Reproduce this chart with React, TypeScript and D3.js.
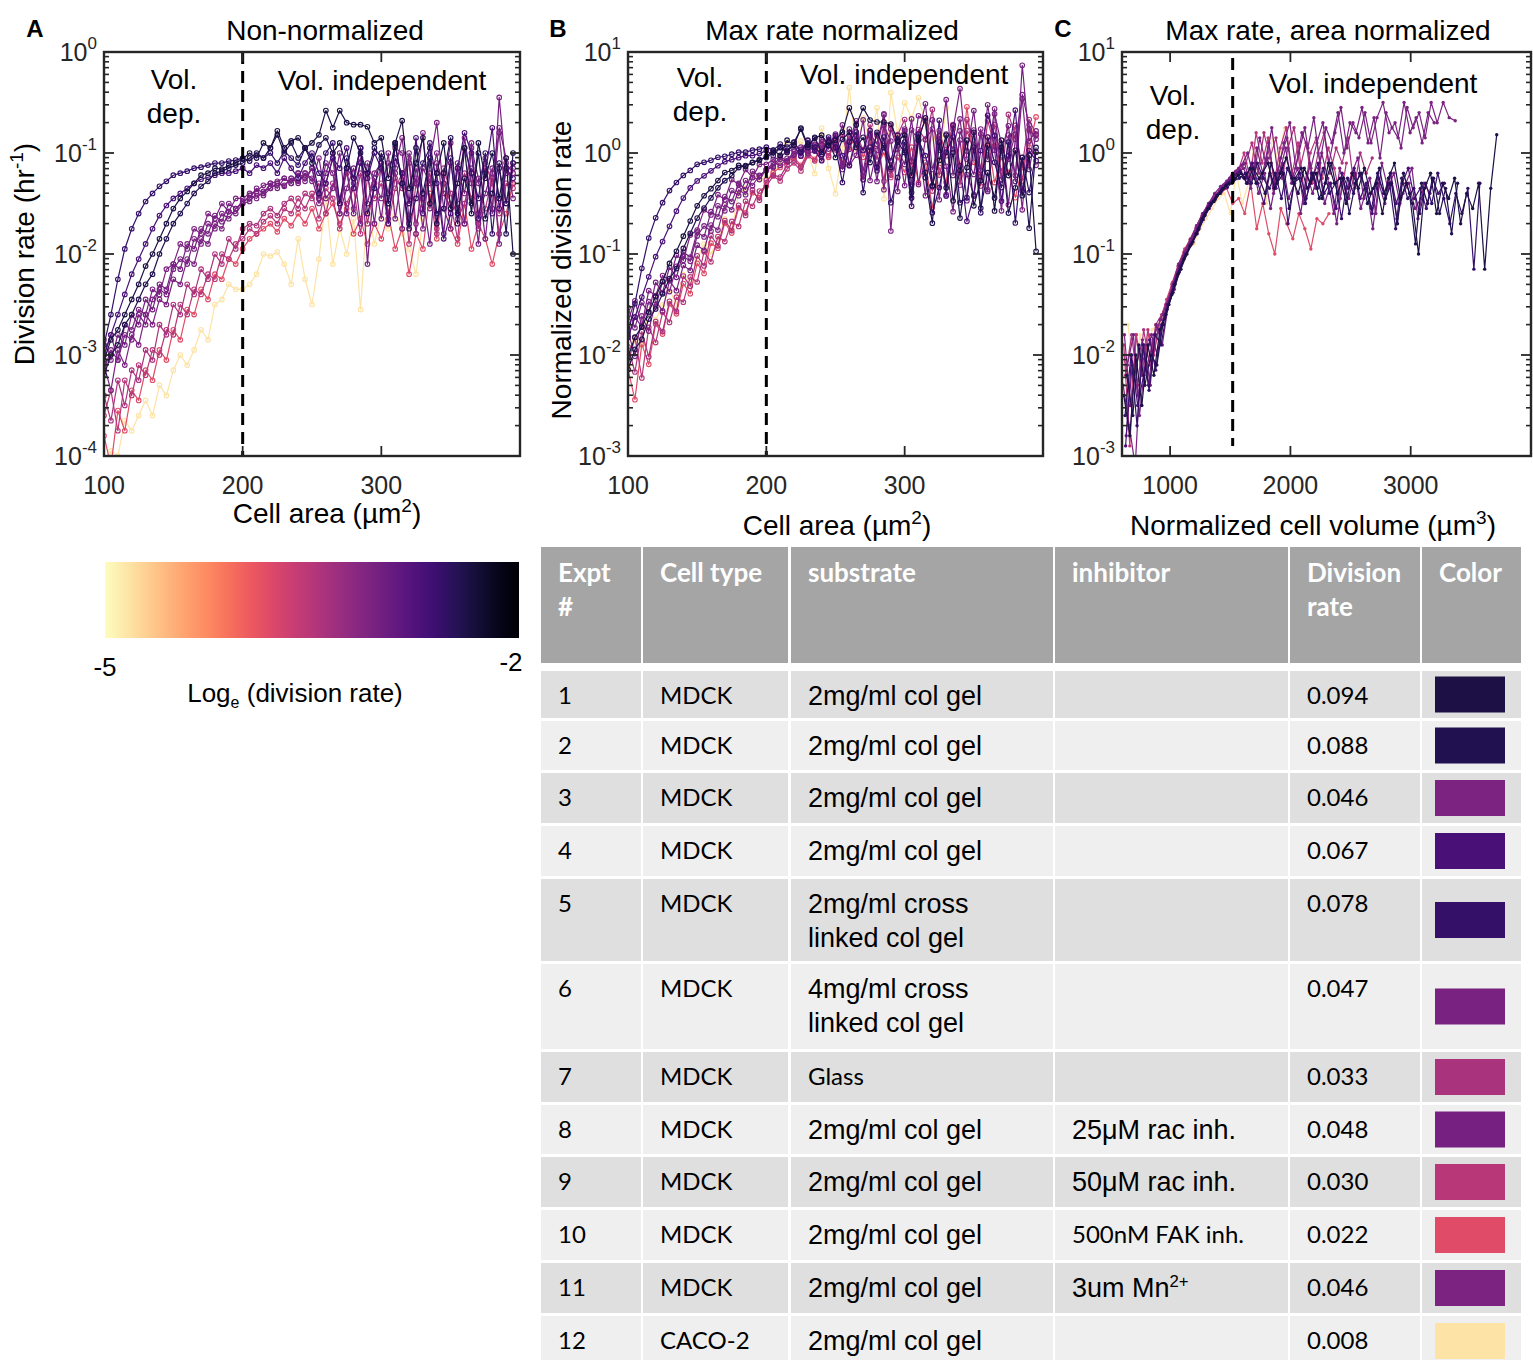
import React from "react";
import * as d3 from "d3";

// ---------------- experiment table ----------------
const exptIds = ["1", "2", "3", "4", "5", "6", "7", "8", "9", "10", "11", "12"];
const cellTypes = ["MDCK", "MDCK", "MDCK", "MDCK", "MDCK", "MDCK", "MDCK", "MDCK", "MDCK", "MDCK", "MDCK", "CACO-2"];
const substrates = [
  "2mg/ml col gel",
  "2mg/ml col gel",
  "2mg/ml col gel",
  "2mg/ml col gel",
  "2mg/ml cross\nlinked col gel",
  "4mg/ml cross\nlinked col gel",
  "Glass",
  "2mg/ml col gel",
  "2mg/ml col gel",
  "2mg/ml col gel",
  "2mg/ml col gel",
  "2mg/ml col gel",
];
const inhibitors = ["", "", "", "", "", "", "", "25\u03bcM rac inh.", "50\u03bcM rac inh.", "500nM FAK inh.", "3um Mn^2+", ""];
const divisionRates = [0.094, 0.088, 0.046, 0.067, 0.078, 0.047, 0.033, 0.048, 0.03, 0.022, 0.046, 0.008];
const tableHeaders = ["Expt\n#", "Cell type", "substrate", "inhibitor", "Division\nrate", "Color"];

// ---------------- division rate vs. cell area (log10 hr^-1), 5 um^2 bins from 100 ----------------
const areaBinStart = 100;
const areaBinWidth = 5;
const logRateByArea: number[][] = [
  // 1
  [-3.05, -2.85, -2.75, -2.6, -2.45, -2.3, -2.12, -2.0, -1.85, -1.7,
   -1.55, -1.45, -1.38, -1.3, -1.22, -1.2, -1.15, -1.16, -1.12, -1.1,
   -1.06, -1.0, -1.05, -0.9, -0.95, -0.78, -0.95, -0.88, -0.85, -0.95,
   -0.9, -0.82, -0.58, -0.75, -0.58, -0.7, -0.72, -0.72, -0.74, -0.9,
   -0.85, -1.25, -0.9, -0.68, -1.35, -1.1, -0.85, -1.5, -1.2, -0.9,
   -1.55, -1.3, -0.95, -1.6, -0.9, -1.25, -1.0, -1.45, -1.05, -2.0],
  // 2
  [-3.2, -3.0, -2.9, -2.7, -2.6, -2.45, -2.3, -2.2, -2.0, -1.85,
   -1.7, -1.6, -1.5, -1.4, -1.33, -1.28, -1.2, -1.18, -1.15, -1.12,
   -1.1, -1.05, -1.0, -1.05, -0.95, -0.82, -1.0, -0.9, -1.05, -0.95,
   -1.1, -0.92, -0.85, -1.0, -0.9, -1.15, -0.85, -1.0, -1.2, -0.95,
   -1.05, -1.5, -0.9, -1.3, -1.75, -0.95, -1.4, -1.05, -1.7, -1.2,
   -0.85, -1.6, -1.25, -1.5, -1.0, -1.65, -1.4, -1.1, -1.8, -1.0],
  // 3
  [-3.0, -2.8, -3.05, -2.7, -2.75, -2.55, -2.6, -2.35, -2.4, -2.15,
   -2.1, -1.9, -1.95, -1.75, -1.8, -1.6, -1.65, -1.5, -1.58, -1.45,
   -1.45, -1.4, -1.38, -1.32, -1.3, -1.28, -1.25, -1.3, -1.2, -1.25,
   -1.15, -1.45, -1.1, -1.2, -1.6, -1.15, -1.25, -0.95, -1.5, -1.2,
   -1.1, -1.65, -1.15, -0.85, -1.5, -1.25, -1.75, -1.1, -0.7, -1.4,
   -1.55, -1.1, -1.7, -0.95, -1.25, -1.85, -1.2, -0.8, -1.5, -1.15],
  // 4
  [-3.0, -2.8, -2.6, -2.4, -2.2, -2.05, -1.9, -1.75, -1.62, -1.52,
   -1.45, -1.4, -1.35, -1.3, -1.26, -1.24, -1.22, -1.2, -1.2, -1.18,
   -1.15, -1.2, -1.12, -1.15, -1.1, -1.2, -1.05, -1.15, -1.25, -1.1,
   -1.0, -1.2, -1.3, -1.05, -1.15, -0.95, -1.35, -1.1, -1.25, -1.0,
   -1.15, -1.7, -1.05, -1.2, -1.5, -0.85, -1.6, -0.9, -1.3, -1.85,
   -1.6, -1.15, -0.8, -1.0, -1.65, -1.2, -0.75, -1.55, -1.15, -1.25],
  // 5
  [-2.9, -2.6, -2.25, -1.95, -1.75, -1.6, -1.48, -1.4, -1.33, -1.28,
   -1.22, -1.2, -1.18, -1.15, -1.14, -1.12, -1.1, -1.1, -1.08, -1.07,
   -1.05, -1.08, -1.02, -1.05, -1.0, -1.1, -0.98, -1.05, -1.12, -0.95,
   -1.05, -1.4, -1.0, -0.9, -1.5, -1.05, -1.25, -0.95, -1.6, -1.35,
   -1.0, -1.5, -0.92, -1.3, -1.7, -1.45, -1.1, -0.95, -1.6, -1.55,
   -1.05, -1.7, -0.95, -1.2, -1.45, -1.0, -1.8, -1.15, -1.5, -1.1],
  // 6
  [-3.15, -2.95, -3.05, -2.8, -2.85, -2.6, -2.7, -2.45, -2.35, -2.4,
   -2.15, -2.05, -2.1, -1.85, -1.9, -1.7, -1.75, -1.6, -1.65, -1.55,
   -1.5, -1.42, -1.45, -1.38, -1.35, -1.3, -1.33, -1.25, -1.3, -1.2,
   -1.28, -1.05, -1.45, -1.35, -1.0, -1.6, -1.3, -0.95, -2.1, -1.25,
   -1.65, -1.1, -1.2, -1.75, -1.0, -1.3, -0.8, -1.55, -1.2, -1.8,
   -1.1, -1.5, -0.85, -1.3, -1.9, -1.15, -1.55, -0.75, -1.05, -1.45],
  // 7
  [-3.4, -3.65, -3.25, -3.5, -3.15, -3.25, -2.95, -3.05, -2.7, -2.8,
   -2.5, -2.6, -2.3, -2.4, -2.15, -2.25, -2.0, -2.1, -1.85, -1.95,
   -1.75, -1.7, -1.72, -1.6, -1.55, -1.62, -1.5, -1.45, -1.55, -1.4,
   -1.45, -1.3, -1.6, -1.3, -1.45, -1.2, -1.55, -1.2, -1.7, -1.3,
   -1.15, -1.6, -1.25, -1.35, -1.05, -1.7, -1.45, -1.2, -1.8, -1.15,
   -1.4, -1.65, -1.5, -1.2, -1.75, -1.1, -1.3, -1.6, -1.15, -1.3],
  // 8
  [-2.85, -3.05, -2.8, -2.9, -2.6, -2.7, -2.45, -2.55, -2.3, -2.35,
   -2.1, -2.15, -1.9, -1.95, -1.75, -1.8, -1.62, -1.68, -1.5, -1.55,
   -1.48, -1.45, -1.35, -1.4, -1.3, -1.35, -1.25, -1.3, -1.2, -1.28,
   -1.15, -1.45, -1.2, -1.0, -1.5, -1.15, -1.6, -1.05, -1.2, -1.7,
   -1.1, -1.4, -0.95, -1.0, -1.65, -1.15, -1.45, -1.9, -1.1, -1.3,
   -0.9, -1.55, -1.7, -1.15, -1.3, -1.05, -1.6, -0.45, -1.2, -1.1],
  // 9
  [-3.6, -3.35, -3.75, -3.25, -3.4, -3.1, -3.2, -2.95, -3.0, -2.75,
   -2.8, -2.5, -2.6, -2.35, -2.4, -2.2, -2.25, -2.0, -2.05, -1.9,
   -1.85, -1.75, -1.8, -1.68, -1.62, -1.7, -1.55, -1.6, -1.45, -1.55,
   -1.4, -1.65, -1.35, -1.45, -1.75, -1.5, -1.35, -1.8, -1.25, -1.45,
   -1.3, -1.7, -1.35, -1.2, -1.9, -1.3, -1.55, -1.25, -1.75, -1.3,
   -1.5, -1.85, -1.2, -1.45, -1.7, -1.55, -1.25, -1.8, -1.3, -1.35],
  // 10
  [-3.8, -4.1, -3.55, -3.75, -3.35, -3.45, -3.15, -3.25, -2.95, -3.05,
   -2.75, -2.85, -2.55, -2.6, -2.35, -2.45, -2.2, -2.25, -2.05, -2.1,
   -1.95, -1.85, -1.8, -1.75, -1.7, -1.78, -1.65, -1.72, -1.6, -1.7,
   -1.55, -1.75, -1.6, -1.5, -1.7, -1.55, -1.8, -1.65, -1.9, -1.7,
   -1.85, -1.6, -1.95, -1.75, -2.2, -1.8, -1.95, -1.4, -1.85, -1.2,
   -1.75, -1.9, -1.5, -1.95, -1.7, -1.85, -2.1, -1.8, -1.6, -1.3],
  // 11
  [-3.1, -3.35, -2.95, -3.1, -2.8, -2.9, -2.6, -2.7, -2.45, -2.5,
   -2.25, -2.3, -2.05, -2.1, -1.85, -1.9, -1.7, -1.75, -1.58, -1.6,
   -1.5, -1.48, -1.4, -1.42, -1.35, -1.3, -1.32, -1.25, -1.28, -1.2,
   -1.25, -1.5, -1.3, -1.05, -1.6, -1.35, -1.15, -1.7, -1.1, -1.3,
   -1.45, -1.0, -1.65, -1.2, -1.1, -1.8, -1.15, -1.3, -1.0, -1.55,
   -1.75, -1.15, -1.4, -0.9, -1.6, -1.4, -1.15, -1.9, -1.1, -1.2],
  // 12
  [-4.2, -3.95, -4.0, -3.65, -3.75, -3.6, -3.45, -3.6, -3.3, -3.4,
   -3.15, -3.0, -3.1, -2.95, -2.75, -2.85, -2.5, -2.45, -2.3, -2.35,
   -2.35, -2.3, -2.2, -2.0, -2.02, -1.98, -2.1, -2.3, -1.85, -2.25,
   -2.5, -2.05, -1.45, -2.1, -1.75, -2.0, -1.65, -2.55, -1.5, -1.9,
   -1.6, -1.75, -1.55, -1.8, -1.95, -2.2, -1.65],
];

// ---------------- normalized rate vs. normalized volume (log10), 50 um^3 bins ----------------
const volBinStart = [615, 640, 620, 630, 625, 645, 630, 635, 615, 620, 610, 650];
const volBinWidth = 50;
const logNormRateByVolume: number[][] = [
  // 1
  [-2.4, -2.8, -2.0, -2.5, -1.9, -2.2, -1.75, -1.6, -1.4, -1.2, -1.05, -0.92, -0.8, -0.65, -0.55, -0.48, -0.4, -0.32, -0.3, -0.22,
   -0.25, -0.15, -0.3, -0.2, -0.1, -0.35, -0.2, -0.05, -0.25, -0.4, -0.15, -0.3, -0.2, -0.45, -0.1, -0.3, -0.25, -0.5, -0.2, -0.35,
   -0.15, -0.4, -0.3, -0.6, -0.25, -0.1, -0.45, -0.3, -0.5, -1.0, -0.35, -0.2, -0.6, -0.3, -0.45, -0.25, -0.7, -0.4, -0.55, -0.3,
   -1.15, -0.35, 0.18],
  // 2
  [-2.2, -2.6, -1.9, -2.3, -2.0, -2.1, -1.7, -1.5, -1.3, -1.15, -1.0, -0.88, -0.75, -0.62, -0.5, -0.42, -0.35, -0.3, -0.25, -0.2,
   -0.3, -0.15, -0.25, -0.4, -0.1, -0.3, -0.2, -0.55, -0.25, -0.15, -0.35, -0.2, -0.45, -0.3, -0.1, -0.4, -0.25, -0.6, -0.3, -0.2,
   -0.5, -0.35, -0.15, -0.45, -0.3, -0.7, -0.2, -0.4, -0.9, -0.3, -0.5, -0.25, -0.6, -0.35, -0.8, -0.3],
  // 3
  [-1.8, -2.5, -2.1, -1.85, -2.3, -1.8, -1.65, -1.5, -1.32, -1.1, -0.98, -0.85, -0.72, -0.6, -0.5, -0.4, -0.33, -0.28, -0.2, -0.15,
   -0.1, -0.35, 0.05, -0.2, 0.1, -0.3, -0.05, 0.15, -0.25, 0.0, 0.25, -0.15, 0.1, 0.3, -0.1, 0.2, 0.45, 0.05, 0.3, 0.15,
   0.4, 0.1, 0.35, 0.5, 0.2, 0.3, 0.05, 0.45, 0.25, 0.4, 0.15, 0.5, 0.3, 0.5, 0.35, 0.32],
  // 4
  [-2.9, -2.0, -2.5, -2.2, -1.85, -2.15, -1.7, -1.5, -1.3, -1.12, -1.0, -0.9, -0.75, -0.6, -0.5, -0.44, -0.36, -0.3, -0.22, -0.18,
   -0.25, -0.1, -0.3, -0.5, -0.2, -0.35, -0.15, -0.7, -0.3, -0.2, -0.45, -0.25, -0.1, -0.4, -0.3, -0.55, -0.2, -0.35, -0.15, -0.45,
   -0.3, -0.6, -0.25, -0.4, -0.2, -0.5, -0.3, -0.15, -0.45, -0.35, -0.55, -0.25, -0.4, -0.3],
  // 5
  [-2.6, -2.0, -2.7, -1.9, -2.35, -1.8, -1.9, -1.55, -1.38, -1.18, -1.02, -0.9, -0.8, -0.66, -0.55, -0.46, -0.38, -0.34, -0.28, -0.25,
   -0.2, -0.3, -0.1, -0.25, -0.35, -0.2, -0.45, -0.15, -0.3, -0.25, -0.5, -0.2, -0.35, -0.15, -0.4, -0.3, -0.65, -0.25, -0.4, -0.2,
   -0.35, -0.55, -0.2, -0.4, -0.3, -0.75, -0.25, -0.45, -0.35, -0.6, -0.3, -0.5, -0.2, -0.45, -0.7, -0.4, -0.6, -0.35, -1.15, -0.3],
  // 6
  [-2.1, -1.8, -2.6, -2.05, -1.8, -2.0, -1.6, -1.45, -1.25, -1.08, -0.95, -0.82, -0.7, -0.58, -0.48, -0.4, -0.32, -0.25, -0.18, -0.12,
   0.0, -0.25, 0.15, -0.1, 0.25, -0.2, 0.1, 0.3, -0.15, 0.2, 0.05, 0.35, -0.1, 0.25, 0.1, 0.4, 0.0, 0.3, 0.2, 0.45,
   0.1, 0.35, -0.05, 0.4, 0.25, 0.15, 0.5, 0.2, 0.35, 0.1, 0.4, 0.3],
  // 7
  [-2.2, -1.8, -2.3, -1.75, -2.1, -1.7, -1.6, -1.45, -1.28, -1.1, -0.95, -0.85, -0.72, -0.6, -0.5, -0.42, -0.35, -0.28, -0.22, -0.16,
   -0.1, 0.1, -0.2, 0.2, -0.05, 0.15, -0.25, 0.05, 0.25, -0.15, 0.1, -0.3, 0.0, 0.2, -0.2, 0.05, -0.1, 0.15, -0.35, 0.0,
   -0.2, -0.05],
  // 8
  [-2.8, -2.1, -2.4, -1.9, -2.3, -1.7, -1.9, -1.5, -1.35, -1.15, -1.0, -0.85, -0.76, -0.62, -0.52, -0.42, -0.36, -0.28, -0.22, -0.18,
   -0.3, -0.1, -0.4, -0.2, -0.55, -0.25, -0.1, -0.45, -0.3, -0.6, -0.2, -0.4, -0.15, -0.5, -0.3, -0.7, -0.25, -0.45, -0.2, -0.55,
   -0.35, -0.75, -0.3, -0.5, -0.2, -0.65, -0.4, -0.3, -0.55, -0.45],
  // 9
  [-1.9, -2.9, -1.8, -2.2, -1.75, -2.0, -1.65, -1.5, -1.3, -1.12, -0.98, -0.86, -0.74, -0.62, -0.52, -0.44, -0.36, -0.3, -0.22, -0.18,
   0.0, -0.25, 0.2, -0.1, 0.15, -0.3, 0.05, 0.25, -0.2, 0.1, -0.4, 0.0, 0.15, -0.25, 0.05, -0.15, -0.45, -0.1],
  // 10
  [-2.0, -2.5, -1.8, -2.2, -1.8, -1.95, -1.65, -1.45, -1.28, -1.1, -0.95, -0.85, -0.72, -0.6, -0.5, -0.42, -0.4, -0.35, -0.5, -0.45,
   -0.6, -0.3, -0.75, -0.5, -0.8, -1.0, -0.55, -0.7, -0.85, -0.6, -0.75, -0.95, -0.65, -0.7, -0.6],
  // 11
  [-2.3, -2.7, -3.1, -2.0, -2.1, -1.85, -1.75, -1.6, -1.4, -1.18, -1.02, -0.9, -0.78, -0.65, -0.54, -0.46, -0.38, -0.32, -0.26, -0.2,
   -0.15, -0.3, -0.1, -0.25, -0.05, -0.4, -0.2, 0.05, -0.3, -0.15, -0.5, -0.1, -0.35, 0.0, -0.25, -0.6, -0.15, -0.4, -0.2, -0.05,
   -0.45, -0.25, -0.6, -0.1, -0.35, -0.2, -0.5, -0.3, -0.15, -0.65, -0.3, -0.4],
  // 12
  [-1.7, -2.2, -1.8, -2.05, -1.75, -1.7, -1.6, -1.4, -1.25, -1.05, -0.95, -0.9, -0.75, -0.65, -0.55, -0.45, -0.4, -0.6, -0.2, -0.5,
   -0.3, 0.1, -0.25, -0.5, 0.15, -0.1, 0.25],
];

// ---------------- helpers ----------------
const ARIAL = '"Liberation Sans", Arial, Helvetica, sans-serif';
const CALIB = 'Lato, "Open Sans", "DejaVu Sans", sans-serif';
const AXIS = "#262626";

const rateColor = (r: number) => d3.interpolateMagma(1 - (Math.log(r) + 5) / 3);

type Pt = [number, number];
type Series = { idx: number; color: string; pts: Pt[] };

const areaSeries: Series[] = logRateByArea.map((vals, i) => ({
  idx: i,
  color: rateColor(divisionRates[i]),
  pts: vals.map((v, j) => [areaBinStart + j * areaBinWidth, Math.pow(10, v)] as Pt),
}));
const maxNormSeries: Series[] = areaSeries.map((s) => ({
  ...s,
  pts: s.pts.map(([a, r]) => [a, r / divisionRates[s.idx]] as Pt),
}));
const volumeSeries: Series[] = logNormRateByVolume.map((vals, i) => ({
  idx: i,
  color: rateColor(divisionRates[i]),
  pts: vals.map((v, j) => [volBinStart[i] + j * volBinWidth, Math.pow(10, v)] as Pt),
}));
const drawOrder = d3.range(divisionRates.length).sort((a, b) => divisionRates[a] - divisionRates[b]);

type PanelProps = {
  id: string;
  left: number;
  right: number;
  top: number;
  bottom: number;
  xDomain: [number, number];
  yExp: [number, number];
  xTicks: number[];
  series: Series[];
  marker: "ring" | "dot";
  divider: number;
  dividerTop?: number;
  dividerBottom?: number;
};

function LogPanel(p: PanelProps) {
  const x = d3.scaleLinear().domain(p.xDomain).range([p.left, p.right]);
  const y = d3.scaleLog().domain([Math.pow(10, p.yExp[0]), Math.pow(10, p.yExp[1])]).range([p.bottom, p.top]);
  const line = d3
    .line<Pt>()
    .x((d) => x(d[0]))
    .y((d) => y(d[1]));
  const majors = d3.range(p.yExp[0], p.yExp[1] + 1);
  const minors: number[] = [];
  for (let e = p.yExp[0]; e < p.yExp[1]; e++) for (let k = 2; k <= 9; k++) minors.push(k * Math.pow(10, e));
  const clipId = `clip-${p.id}`;
  const bySeries = drawOrder.map((i) => p.series[i]);
  return (
    <g>
      <defs>
        <clipPath id={clipId}>
          <rect x={p.left} y={p.top} width={p.right - p.left} height={p.bottom - p.top} />
        </clipPath>
      </defs>
      <rect x={p.left} y={p.top} width={p.right - p.left} height={p.bottom - p.top} fill="#fff" />
      <g clipPath={`url(#${clipId})`}>
        {bySeries.map((s) => (
          <g key={s.idx}>
            <path d={line(s.pts) || ""} fill="none" stroke={s.color} strokeWidth={1.2} strokeLinejoin="round" />
            {s.pts.map((d, j) =>
              p.marker === "ring" ? (
                <circle key={j} cx={x(d[0])} cy={y(d[1])} r={2.3} fill="none" stroke={s.color} strokeWidth={1.1} />
              ) : (
                <circle key={j} cx={x(d[0])} cy={y(d[1])} r={1.7} fill={s.color} />
              )
            )}
          </g>
        ))}
      </g>
      <line
        x1={x(p.divider)}
        x2={x(p.divider)}
        y1={p.dividerTop ?? p.top}
        y2={p.dividerBottom ?? p.bottom}
        stroke="#000"
        strokeWidth={3}
        strokeDasharray="12,7"
      />
      {minors.map((v, i) => (
        <g key={`mn${i}`} stroke={AXIS} strokeWidth={1.6}>
          <line x1={p.left} x2={p.left + 5} y1={y(v)} y2={y(v)} />
          <line x1={p.right} x2={p.right - 5} y1={y(v)} y2={y(v)} />
        </g>
      ))}
      {majors.map((e) => (
        <g key={`mj${e}`} stroke={AXIS} strokeWidth={1.8}>
          <line x1={p.left} x2={p.left + 10} y1={y(Math.pow(10, e))} y2={y(Math.pow(10, e))} />
          <line x1={p.right} x2={p.right - 10} y1={y(Math.pow(10, e))} y2={y(Math.pow(10, e))} />
        </g>
      ))}
      {p.xTicks.map((t) => (
        <g key={`xt${t}`} stroke={AXIS} strokeWidth={1.8}>
          <line x1={x(t)} x2={x(t)} y1={p.bottom} y2={p.bottom - 10} />
          <line x1={x(t)} x2={x(t)} y1={p.top} y2={p.top + 10} />
        </g>
      ))}
      <rect
        x={p.left}
        y={p.top}
        width={p.right - p.left}
        height={p.bottom - p.top}
        fill="none"
        stroke={AXIS}
        strokeWidth={2.4}
      />
      {majors.map((e) => (
        <text
          key={`yl${e}`}
          x={p.left - 7}
          y={y(Math.pow(10, e)) + 9}
          textAnchor="end"
          fontFamily={ARIAL}
          fontSize={25}
          fill={AXIS}
        >
          10
          <tspan dy={-12} fontSize={17}>
            {String(e)}
          </tspan>
        </text>
      ))}
      {p.xTicks.map((t) => (
        <text
          key={`xl${t}`}
          x={x(t)}
          y={p.bottom + 38}
          textAnchor="middle"
          fontFamily={ARIAL}
          fontSize={25}
          fill={AXIS}
        >
          {t}
        </text>
      ))}
    </g>
  );
}

function Txt(props: { x: number; y: number; children: React.ReactNode; size?: number; anchor?: string; weight?: number; family?: string; fill?: string; rotate?: boolean }) {
  const { x, y, size = 28, anchor = "middle", weight = 400, family = ARIAL, fill = "#000", rotate } = props;
  return (
    <text
      x={x}
      y={y}
      fontSize={size}
      textAnchor={anchor}
      fontWeight={weight}
      fontFamily={family}
      fill={fill}
      transform={rotate ? `rotate(-90 ${x} ${y})` : undefined}
    >
      {props.children}
    </text>
  );
}

function RegionLabels({ volX, depY, indX, indY }: { volX: number; depY: number; indX: number; indY: number }) {
  return (
    <g>
      <Txt x={volX} y={depY}>Vol.</Txt>
      <Txt x={volX} y={depY + 34}>dep.</Txt>
      <Txt x={indX} y={indY}>Vol. independent</Txt>
    </g>
  );
}

// ---------------- table layout ----------------
const colEdges: [number, number][] = [
  [541, 641],
  [643, 788],
  [791, 1053],
  [1055, 1288],
  [1290, 1420],
  [1422, 1521],
];
const headerTop = 547;
const headerBottom = 663;
const rowHeights = [47, 49, 50, 50, 82, 85, 50, 49, 50, 50, 50, 50];
const calibriCells = new Set(["Glass", "500nM FAK inh."]);

function CellText({ x, yCenter, text, family, size }: { x: number; yCenter: number; text: string; family: string; size: number }) {
  const lines = text.split("\n");
  return (
    <g>
      {lines.map((ln, i) => {
        const baseline = yCenter + i * 34 + size * 0.36;
        const supAt = ln.indexOf("^");
        return (
          <text key={i} x={x} y={baseline} fontFamily={family} fontSize={size} fill="#000">
            {supAt >= 0 ? (
              <>
                {ln.slice(0, supAt)}
                <tspan dy={-10} fontSize={size * 0.62}>
                  {ln.slice(supAt + 1)}
                </tspan>
              </>
            ) : (
              ln
            )}
          </text>
        );
      })}
    </g>
  );
}

function ExperimentTable() {
  let top = 671;
  const rows = rowHeights.map((h, i) => {
    const r = { top, h, i };
    top += h + 3;
    return r;
  });
  return (
    <g>
      {colEdges.map(([a, b], c) => (
        <g key={`h${c}`}>
          <rect x={a} y={headerTop} width={b - a} height={headerBottom - headerTop} fill="#a5a5a5" />
          {tableHeaders[c].split("\n").map((ln, k) => (
            <text
              key={k}
              x={a + 17}
              y={headerTop + 26 + k * 34 + 9}
              fontFamily={CALIB}
              fontWeight={700}
              fontSize={26}
              fill="#fff"
            >
              {ln}
            </text>
          ))}
        </g>
      ))}
      {rows.map(({ top: t, h, i }) => {
        const bg = i % 2 === 0 ? "#dfdfdf" : "#efefef";
        const yc = t + 24;
        const cells = [exptIds[i], cellTypes[i], substrates[i], inhibitors[i], divisionRates[i].toFixed(3)];
        return (
          <g key={`r${i}`}>
            {colEdges.map(([a, b], c) => (
              <rect key={c} x={a} y={t} width={b - a} height={h} fill={bg} />
            ))}
            {cells.map((txt, c) => {
              const arialCol = (c === 2 || c === 3) && !calibriCells.has(txt);
              return (
                <CellText
                  key={c}
                  x={colEdges[c][0] + 17}
                  yCenter={yc}
                  text={txt}
                  family={arialCol ? ARIAL : CALIB}
                  size={arialCol ? 27 : 24}
                />
              );
            })}
            <rect x={1435} y={t + h / 2 - 18} width={70} height={36} fill={rateColor(divisionRates[i])} />
          </g>
        );
      })}
    </g>
  );
}

// ---------------- colour bar ----------------
const colorbarTicks = [-5, -2];

function ColorBar() {
  const left = 105;
  const right = 519;
  const stops = d3.range(0, 1.0001, 0.05);
  const cx = d3.scaleLinear().domain([colorbarTicks[0], colorbarTicks[1]]).range([left, right]);
  return (
    <g>
      <defs>
        <linearGradient id="magmaBar" x1="0" x2="1" y1="0" y2="0">
          {stops.map((s) => (
            <stop key={s} offset={s} stopColor={d3.interpolateMagma(1 - s)} />
          ))}
        </linearGradient>
      </defs>
      <rect x={left} y={562} width={right - left} height={76} fill="url(#magmaBar)" />
      <Txt x={cx(-5)} y={676} size={26}>
        -5
      </Txt>
      <Txt x={cx(-2) - 8} y={671} size={26}>
        -2
      </Txt>
      <text x={295} y={702} textAnchor="middle" fontFamily={ARIAL} fontSize={26} fill="#000">
        Log
        <tspan dy={6} fontSize={16}>
          e
        </tspan>
        <tspan dy={-6}> (division rate)</tspan>
      </text>
    </g>
  );
}

export default function App() {
  const top = 52;
  const bottom = 456;
  return (
    <svg
      width={1533}
      height={1360}
      viewBox="0 0 1533 1360"
      style={{ position: "absolute", left: 0, top: 0, background: "#fff" }}
    >
      <rect width={1533} height={1360} fill="#fff" />

      {/* A */}
      <LogPanel
        id="a"
        left={104}
        right={520}
        top={top}
        bottom={bottom}
        xDomain={[100, 400]}
        yExp={[-4, 0]}
        xTicks={[100, 200, 300]}
        series={areaSeries}
        marker="ring"
        divider={200}
      />
      <Txt x={35} y={37} size={24} weight={700}>A</Txt>
      <Txt x={325} y={40}>Non-normalized</Txt>
      <RegionLabels volX={174} depY={89} indX={382} indY={90} />
      <Txt x={327} y={523}>
        Cell area (µm<tspan dy={-11} fontSize={19}>2</tspan>
        <tspan dy={11}>)</tspan>
      </Txt>
      <Txt x={34} y={254} rotate>
        Division rate (hr<tspan dy={-11} fontSize={19}>-1</tspan>
        <tspan dy={11}>)</tspan>
      </Txt>

      {/* B */}
      <LogPanel
        id="b"
        left={628}
        right={1043}
        top={top}
        bottom={bottom}
        xDomain={[100, 400]}
        yExp={[-3, 1]}
        xTicks={[100, 200, 300]}
        series={maxNormSeries}
        marker="ring"
        divider={200}
      />
      <Txt x={558} y={37} size={24} weight={700}>B</Txt>
      <Txt x={832} y={40}>Max rate normalized</Txt>
      <RegionLabels volX={700} depY={87} indX={904} indY={84} />
      <Txt x={837} y={535}>
        Cell area (µm<tspan dy={-11} fontSize={19}>2</tspan>
        <tspan dy={11}>)</tspan>
      </Txt>
      <Txt x={571} y={270} rotate>
        Normalized division rate
      </Txt>

      {/* C */}
      <LogPanel
        id="c"
        left={1122}
        right={1531}
        top={top}
        bottom={bottom}
        xDomain={[600, 4000]}
        yExp={[-3, 1]}
        xTicks={[1000, 2000, 3000]}
        series={volumeSeries}
        marker="dot"
        divider={1520}
        dividerTop={58}
        dividerBottom={446}
      />
      <Txt x={1063} y={37} size={24} weight={700}>C</Txt>
      <Txt x={1328} y={40}>Max rate, area normalized</Txt>
      <RegionLabels volX={1173} depY={105} indX={1373} indY={93} />
      <Txt x={1313} y={535}>
        Normalized cell volume (µm<tspan dy={-11} fontSize={19}>3</tspan>
        <tspan dy={11}>)</tspan>
      </Txt>

      <ColorBar />
      <ExperimentTable />
    </svg>
  );
}
